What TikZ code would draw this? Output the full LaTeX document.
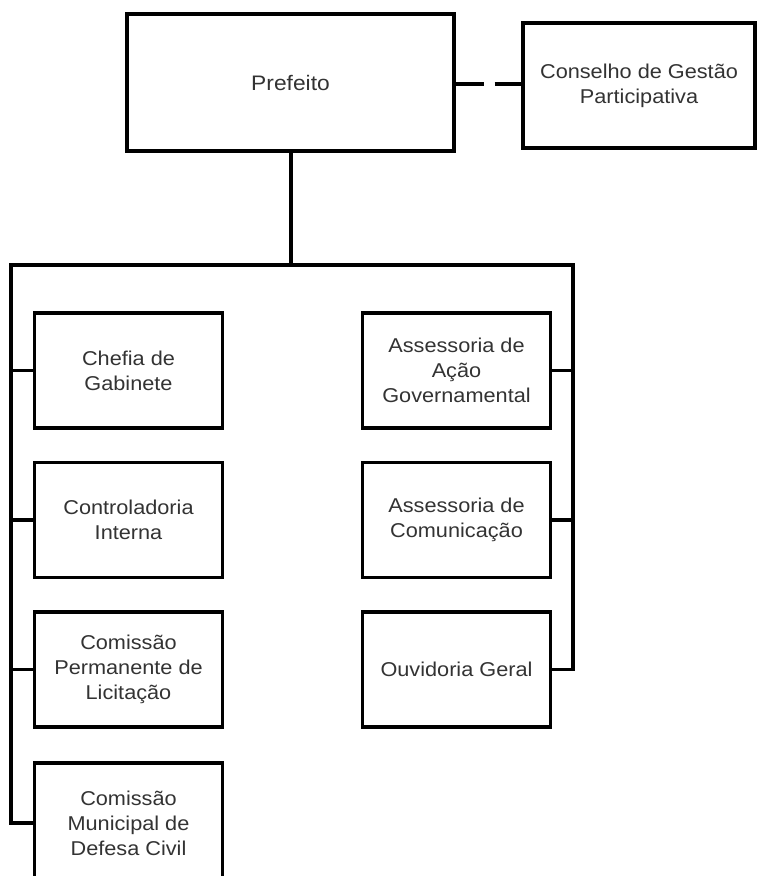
\documentclass[tikz,border=0pt]{standalone}
\usepackage{fontspec}
\setmainfont{Liberation Sans}[FakeStretch=1.085]
\begin{document}
\begin{tikzpicture}[
  x={(1pt,0)}, y={(0,-1pt)},
  line width=3.2pt, line join=miter,
  unit/.style={draw=black, fill=white, inner sep=0pt, align=center,
    text=black!80, font=\fontsize{20}{25}\selectfont},
  colbox/.style={unit, minimum width=188pt, minimum height=115pt},
  link/.style={draw=black, line width=3.2pt}
]
\useasboundingbox (0,0) rectangle (757,876);

% top level
\node[unit, minimum width=327pt, minimum height=137pt,
  font=\fontsize{21}{25}\selectfont] (pref) at (290.5,82.5) {Prefeito};
\node[unit, minimum width=232pt, minimum height=125pt] (cons) at (639,85.5)
  {Conselho de Gestão\\Participativa};

% left column
\node[colbox] (chefia) at (128.5,370.5) {Chefia de\\Gabinete};
\node[colbox] (contr)  at (128.5,520)   {Controladoria\\Interna};
\node[colbox] (cpl)    at (128.5,669.5) {Comissão\\Permanente de\\Licitação};
\node[colbox, minimum height=120pt] (defesa) at (128.5,823)
  {Comissão\\Municipal de\\Defesa Civil};

% right column
\node[colbox] (acao)  at (456.5,370.5) {Assessoria de\\Ação\\Governamental};
\node[colbox] (comun) at (456.5,520)   {Assessoria de\\Comunicação};
\node[colbox] (ouv)   at (456.5,669.5) {Ouvidoria Geral};

% junctions of the distribution bar
\coordinate (jP) at (291,265);
\coordinate (jL) at (11,265);
\coordinate (jR) at (573,265);

% dashed advisory link
\draw[link, dash pattern=on 28pt off 11pt] (pref.east |- 0,84) -- (cons.west |- 0,84);

% hierarchy
\draw[link] (pref.south -| jP) -- (jP);
\draw[link] (defesa.west) -| (jL) -- (jR) |- (ouv.east);
\draw[link] (chefia.west) -- (chefia.west -| jL);
\draw[link] (contr.west)  -- (contr.west -| jL);
\draw[link] (cpl.west)    -- (cpl.west -| jL);
\draw[link] (acao.east)   -- (acao.east -| jR);
\draw[link] (comun.east)  -- (comun.east -| jR);
\end{tikzpicture}
\end{document}
